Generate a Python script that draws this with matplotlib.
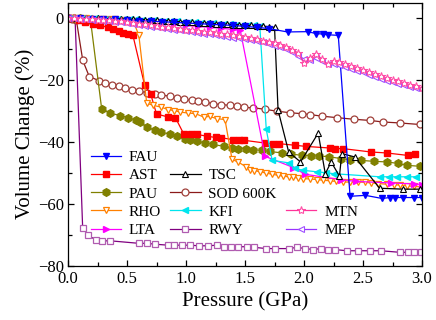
import matplotlib
matplotlib.use('Agg')
import matplotlib.pyplot as plt
from matplotlib.lines import Line2D
from matplotlib.ticker import MultipleLocator

plt.rcParams['font.family'] = ['Liberation Serif', 'DejaVu Serif']
plt.rcParams['mathtext.fontset'] = 'stix'

# ---- data (pressure in GPa, volume change in %) ----
fau_x = [0.0, 0.1, 0.2, 0.3, 0.4, 0.5, 0.6, 0.7, 0.8, 0.9, 1.0, 1.1, 1.2, 1.3, 1.4, 1.5, 1.6, 1.7,
         1.86, 2.03, 2.1, 2.16, 2.2, 2.29, 2.39, 2.52, 2.66, 2.73, 2.77, 2.84, 2.93, 3.0]
fau_y = [0.0, -0.1, -0.2, -0.3, -0.4, -0.6, -0.8, -1.0, -1.2, -1.4, -1.6, -1.8, -2.0, -2.2, -2.4, -2.7, -3.0, -3.4,
         -4.5, -4.4, -5.0, -5.2, -5.4, -5.6, -57.6, -57.3, -58.3, -58.0, -58.0, -58.0, -58.0, -58.0]

ast_x = [0.0, 0.04, 0.09, 0.14, 0.21, 0.27, 0.34, 0.38, 0.43, 0.47, 0.51, 0.55,
         0.65, 0.70, 0.75, 0.85, 0.91, 0.98, 1.04, 1.09, 1.18, 1.25, 1.30, 1.40, 1.45, 1.49,
         1.67, 1.74, 1.79, 1.92, 2.02, 2.22, 2.26, 2.33, 2.57, 2.70, 2.88, 2.94]
ast_y = [0.0, 0.0, -0.5, -1.3, -1.8, -2.4, -3.0, -3.7, -4.3, -4.8, -5.2, -5.6,
         -21.8, -24.5, -31.0, -32.0, -32.2, -37.4, -37.4, -37.6, -38.2, -38.6, -38.7, -39.3, -39.5, -39.5,
         -40.4, -40.6, -40.6, -41.1, -41.5, -42.0, -42.2, -42.2, -43.3, -43.6, -44.4, -44.0]

tsc_x = [0.0, 0.05, 0.1, 0.15, 0.2, 0.25, 0.3, 0.35, 0.4, 0.45, 0.5, 0.55, 0.6, 0.65, 0.7, 0.75, 0.8, 0.85,
         0.9, 0.95, 1.0, 1.05, 1.1, 1.15, 1.2, 1.25, 1.3, 1.35, 1.4, 1.45, 1.5, 1.55, 1.6, 1.65, 1.7, 1.75,
         1.78, 1.87, 1.97, 2.12, 2.18, 2.23, 2.30, 2.32, 2.43, 2.64, 2.84, 2.98]
tsc_y = [0.0, 0.0, 0.0, -0.1, -0.1, -0.1, -0.2, -0.2, -0.2, -0.3, -0.3, -0.4, -0.4, -0.5, -0.6, -0.7, -0.8, -0.9,
         -1.0, -1.2, -1.3, -1.4, -1.5, -1.6, -1.7, -1.8, -1.9, -2.0, -2.1, -2.2, -2.3, -2.4, -2.5, -2.6, -2.8, -3.0,
         -29.8, -43.3, -46.5, -37.2, -50.3, -46.5, -51.1, -43.8, -44.9, -55.0, -55.3, -55.3]

pau_x = [0.0, 0.05, 0.1, 0.15, 0.19, 0.285, 0.356, 0.44, 0.51, 0.58, 0.61, 0.667, 0.737, 0.79, 0.864, 0.92,
         0.99, 1.03, 1.09, 1.16, 1.23, 1.32, 1.39, 1.44, 1.51, 1.57, 1.64, 1.71, 1.81, 1.89, 1.98, 2.06, 2.13,
         2.21, 2.31, 2.39, 2.48, 2.59, 2.70, 2.80, 2.87, 2.98]
pau_y = [0.0, 0.0, -0.1, -0.2, -0.5, -29.3, -30.7, -31.5, -32.2, -33.1, -33.6, -35.2, -36.3, -36.8, -37.6, -38.2,
         -39.2, -39.3, -39.7, -40.4, -40.8, -41.5, -41.9, -42.2, -42.2, -42.5, -42.8, -43.1, -43.6, -43.9, -44.4, -44.5, -44.6,
         -44.8, -45.4, -45.8, -46.0, -46.3, -46.5, -47.0, -47.6, -47.9]

sod_x = [0.0, 0.035, 0.07, 0.125, 0.18, 0.26, 0.31, 0.37, 0.43, 0.48, 0.54, 0.60, 0.67, 0.74, 0.79, 0.86, 0.92,
         0.98, 1.05, 1.10, 1.16, 1.23, 1.30, 1.37, 1.43, 1.49, 1.57, 1.67, 1.77, 1.88, 1.98, 2.05, 2.15, 2.28,
         2.42, 2.56, 2.67, 2.81, 2.98]
sod_y = [0.0, -0.2, -0.5, -13.7, -18.9, -20.2, -21.0, -21.6, -22.1, -22.5, -23.2, -23.6, -24.1, -24.5, -24.8, -25.3, -25.7,
         -26.3, -26.6, -26.8, -27.1, -27.7, -28.0, -28.2, -28.5, -28.9, -29.0, -29.5, -30.1, -30.6, -30.9, -31.2, -31.7, -32.2,
         -32.7, -33.1, -33.6, -33.9, -34.4]

rho_x = [0.0, 0.05, 0.1, 0.15, 0.2, 0.25, 0.3, 0.35, 0.4, 0.45, 0.5, 0.55, 0.6,
         0.667, 0.72, 0.79, 0.85, 0.90, 0.95, 1.02, 1.08, 1.15, 1.20, 1.26, 1.33,
         1.39, 1.44, 1.51, 1.54, 1.58, 1.63, 1.68, 1.73, 1.78, 1.82, 1.87, 1.91, 1.95, 1.99, 2.05, 2.11, 2.16,
         2.22, 2.27, 2.33, 2.39, 2.46, 2.52, 2.57, 2.63, 2.70, 2.76, 2.81, 2.87, 2.93, 3.0]
rho_y = [0.0, 0.0, -0.1, -0.1, -0.2, -0.2, -0.3, -0.3, -0.4, -0.5, -0.6, -0.8, -5.5,
         -27.5, -28.2, -28.8, -29.6, -29.9, -30.4, -30.7, -30.9, -32.0, -31.8, -32.5, -32.8,
         -45.7, -46.5, -48.1, -49.0, -49.3, -49.7, -50.1, -50.5, -50.8, -51.1, -51.3, -51.5, -51.7, -51.9, -52.0, -52.2, -52.4,
         -52.6, -52.8, -53.0, -53.0, -53.0, -53.1, -53.3, -53.5, -53.7, -53.8, -54.0, -54.2, -54.4, -54.6]

kfi_x = [0.025, 0.075, 0.125, 0.175, 0.225, 0.275, 0.325, 0.375, 0.425, 0.475, 0.525, 0.575, 0.625, 0.675,
         0.725, 0.775, 0.825, 0.875, 0.925, 0.975, 1.025, 1.075, 1.125, 1.175, 1.225, 1.275, 1.325, 1.375,
         1.425, 1.475, 1.525, 1.575, 1.625,
         1.68, 1.73, 1.87, 1.92, 1.99, 2.11, 2.19, 2.25, 2.64, 2.72, 2.79, 2.87, 2.95]
kfi_y = [0.0, 0.0, -0.1, -0.1, -0.1, -0.2, -0.2, -0.2, -0.3, -0.3, -0.4, -0.4, -0.5, -0.6,
         -0.7, -0.8, -0.9, -1.0, -1.1, -1.2, -1.3, -1.4, -1.5, -1.6, -1.7, -1.8, -1.9, -2.0,
         -2.1, -2.2, -2.3, -2.4, -2.5,
         -36.0, -46.0, -46.8, -48.6, -49.2, -49.7, -50.0, -50.3, -51.3, -51.3, -51.3, -51.3, -51.3]

mtn_x = [0.0, 0.05, 0.1, 0.15, 0.2, 0.25, 0.3, 0.35, 0.4, 0.45, 0.5, 0.55, 0.6, 0.65, 0.7, 0.75, 0.8, 0.85,
         0.9, 0.95, 1.0, 1.05, 1.1, 1.15, 1.2, 1.25, 1.3, 1.35, 1.4, 1.45, 1.5, 1.55, 1.6, 1.65, 1.7, 1.75,
         1.8, 1.85, 1.9, 1.95, 2.0, 2.05, 2.1, 2.15, 2.2, 2.25, 2.3, 2.35, 2.4, 2.45, 2.5, 2.55, 2.6, 2.65,
         2.7, 2.75, 2.8, 2.85, 2.9, 2.95, 3.0]
mtn_y = [0.0, -0.1, -0.2, -0.3, -0.4, -0.5, -0.6, -0.7, -0.9, -1.1, -1.3, -1.5, -1.8, -2.0, -2.3, -2.5, -2.8, -3.0,
         -3.3, -3.5, -3.8, -4.0, -4.2, -4.4, -4.6, -4.8, -5.1, -5.3, -5.6, -5.9, -6.2, -6.5, -6.9, -7.3, -7.7, -8.1,
         -8.6, -9.2, -10.2, -11.3, -14.6, -13.0, -11.6, -13.2, -15.0, -14.0, -14.3, -15.0, -15.6, -16.0, -16.8, -17.5, -18.2, -18.8,
         -19.4, -20.0, -20.4, -21.0, -21.6, -22.1, -22.6]

mep_x = mtn_x
mep_y = [0.0, -0.1, -0.2, -0.4, -0.5, -0.7, -0.8, -1.0, -1.2, -1.4, -1.7, -1.9, -2.2, -2.5, -2.8, -3.0, -3.3, -3.5,
         -3.8, -4.0, -4.3, -4.5, -4.8, -5.0, -5.3, -5.5, -5.8, -6.0, -6.3, -6.5, -6.8, -7.1, -7.5, -7.9, -8.4, -8.9,
         -9.4, -10.1, -11.0, -12.2, -13.2, -13.4, -13.0, -13.8, -14.8, -15.0, -15.3, -15.8, -16.4, -17.0, -17.6, -18.3, -19.0, -19.7,
         -20.2, -20.7, -21.2, -21.7, -22.2, -22.6, -23.0]

lta_x = [0.0, 0.1, 0.2, 0.3, 0.4, 0.5, 0.6, 0.7, 0.8, 0.9, 1.0, 1.1, 1.2, 1.3, 1.4, 1.46,
         1.67, 1.91, 2.01, 2.31, 2.44, 2.74, 2.93, 3.0]
lta_y = [0.0, -0.1, -0.2, -0.4, -0.6, -0.8, -1.1, -1.4, -1.7, -2.0, -2.4, -2.7, -3.0, -3.3, -3.7, -4.0,
         -44.7, -48.3, -50.5, -52.2, -52.8, -53.3, -53.6, -53.8]

rwy_x = [0.0, 0.03, 0.06, 0.124, 0.17, 0.24, 0.29, 0.36, 0.60, 0.67, 0.74, 0.85, 0.90, 0.97, 1.03, 1.11, 1.19,
         1.26, 1.32, 1.38, 1.44, 1.52, 1.58, 1.68, 1.75, 1.87, 1.94, 2.01, 2.08, 2.14, 2.20, 2.26, 2.36, 2.46,
         2.56, 2.65, 2.81, 2.88, 2.93, 2.99]
rwy_y = [0.0, 0.0, -0.3, -67.7, -70.2, -71.8, -72.0, -72.0, -72.8, -72.8, -73.1, -73.4, -73.4, -73.4, -73.4, -73.6, -73.6,
         -73.4, -73.9, -73.9, -73.9, -73.9, -74.1, -74.5, -74.5, -74.5, -74.1, -74.5, -74.8, -74.5, -74.8, -74.8, -75.2, -75.2,
         -75.2, -75.2, -75.7, -75.7, -75.7, -75.7]

fig, ax = plt.subplots(figsize=(4.36, 3.2), dpi=100)
fig.subplots_adjust(left=0.156, right=0.968, bottom=0.170, top=0.992)

lw = 0.9
ms = 4.5

# draw order: bottom layers first
rwy, = ax.plot(rwy_x, rwy_y, color='#800080', lw=lw, marker='s', ms=ms - 0.5, mfc='white',
               mec='#b05cb0', mew=0.9, label='RWY')
sod, = ax.plot(sod_x, sod_y, color='#8b1a1a', lw=lw, marker='o', ms=ms + 0.5, mfc='white',
               mec='#a0403a', mew=0.9, label='SOD 600K')
pau, = ax.plot(pau_x, pau_y, color='#808000', lw=lw, marker='h', ms=ms + 1, mfc='#808000',
               mec='#808000', label='PAU')
ast, = ax.plot(ast_x, ast_y, color='#ff0000', lw=lw, marker='s', ms=ms, mfc='#ff0000',
               mec='#ff0000', label='AST')
rho, = ax.plot(rho_x, rho_y, color='#ff8000', lw=lw, marker='v', ms=ms + 0.5, mfc='white',
               mec='#ff8000', mew=0.9, label='RHO')
lta, = ax.plot(lta_x, lta_y, color='#ff00ff', lw=lw, marker='>', ms=ms + 0.5, mfc='#ff00ff',
               mec='#ff00ff', label='LTA')
kfi, = ax.plot(kfi_x, kfi_y, color='#00e5ee', lw=lw, marker='<', ms=ms + 0.5, mfc='#00e5ee',
               mec='#00e5ee', label='KFI')
tsc, = ax.plot(tsc_x, tsc_y, color='black', lw=lw, marker='^', ms=ms + 0.5, mfc='white',
               mec='black', mew=0.8, label='TSC')
fau, = ax.plot(fau_x, fau_y, color='#0000ff', lw=lw, marker='v', ms=ms + 0.5, mfc='#0000ff',
               mec='#0000ff', label='FAU')
mep, = ax.plot(mep_x, mep_y, color='#9933ff', lw=lw, marker='<', ms=ms + 0.5, mfc='white',
               mec='#a050ff', mew=0.8, label='MEP')
mtn, = ax.plot(mtn_x, mtn_y, color='#ff3399', lw=lw, marker='*', ms=ms + 1.5, mfc='white',
               mec='#ff4da6', mew=0.8, label='MTN')

ax.set_xlim(0, 3.0)
ax.set_ylim(-80, 5)
ax.xaxis.set_major_locator(MultipleLocator(0.5))
ax.xaxis.set_minor_locator(MultipleLocator(0.25))
ax.yaxis.set_major_locator(MultipleLocator(20))
ax.yaxis.set_minor_locator(MultipleLocator(10))
ax.tick_params(which='both', direction='in', top=True, right=True, labelsize=12, width=0.9)
ax.tick_params(which='major', length=4.5, pad=3)
ax.tick_params(axis='x', which='major', pad=4)
ax.tick_params(which='minor', length=3)
ax.set_xticklabels([], minor=True)
for s in ax.spines.values():
    s.set_linewidth(0.9)

ax.set_xlabel('Pressure (GPa)', fontsize=15, labelpad=4)
ax.set_ylabel('Volume Change (%)', fontsize=15, labelpad=2)

blank = Line2D([], [], linestyle='none', marker='')
handles = [fau, ast, pau, rho, lta, blank, tsc, sod, kfi, rwy, blank, blank, blank, mtn, mep]
labels = ['FAU', 'AST', 'PAU', 'RHO', 'LTA', '', 'TSC', 'SOD 600K', 'KFI', 'RWY', '', '', '', 'MTN', 'MEP']
ax.legend(handles, labels, ncol=3, loc='upper left', bbox_to_anchor=(0.055, 0.45), frameon=False,
          fontsize=11, handlelength=2.0, handletextpad=0.5, columnspacing=0.6, labelspacing=0.3,
          borderpad=0.2, borderaxespad=0.0)

fig.savefig('out.png', dpi=100)
